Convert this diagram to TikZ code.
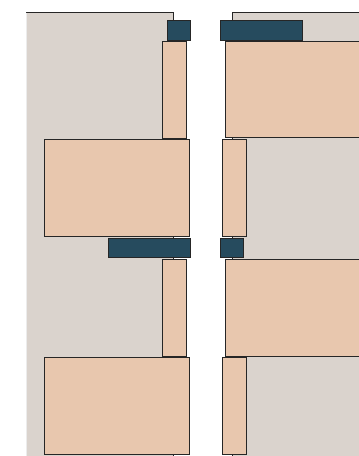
\documentclass[tikz,border=0pt]{standalone}
\usetikzlibrary{shadows}
\definecolor{panelgray}{HTML}{DAD3CD}
\definecolor{tanfill}{HTML}{E8C7AE}
\definecolor{navy}{HTML}{264B5E}
\definecolor{edge}{HTML}{262626}
\tikzset{
  panel/.style={fill=panelgray, draw=none},
  panelline/.style={draw=edge, line width=0.9pt},
  block/.style={fill=tanfill, draw=edge, line width=1pt, drop shadow={shadow xshift=1.2pt, shadow yshift=-0.6pt, opacity=0.4, fill=black}},
  capbox/.style={fill=navy, draw=edge, line width=1pt, drop shadow={shadow xshift=1.2pt, shadow yshift=-0.6pt, opacity=0.4, fill=black}}
}
\begin{document}
\begin{tikzpicture}[x=1pt,y=-1pt]
\useasboundingbox (0,0) rectangle (359,456);
\clip (0,0) rectangle (359,456);
\fill[white] (0,0) rectangle (359,456);
% left panel
\fill[panel] (26,12) rectangle (173,470);
\draw[panelline] (26,12) -- (173,12) -- (173,470);
\draw[white!85!gray, line width=0.6pt] (26.3,12.5) -- (26.3,470);
% right panel
\fill[panel] (232,12) rectangle (380,470);
\draw[panelline] (380,12) -- (232,12) -- (232,470);
% left column
\draw[capbox] (167,20) rectangle (190,40);
\draw[block] (162,41) rectangle (186,138);
\draw[block] (44,139) rectangle (189,236);
\draw[capbox] (108,238) rectangle (190,257);
\draw[block] (162,259) rectangle (186,356);
\draw[block] (44,357) rectangle (189,454);
% right column
\draw[capbox] (220,20) rectangle (302,40);
\draw[block] (225,41) rectangle (380,137);
\draw[block] (222,139) rectangle (246,236);
\draw[capbox] (220,238) rectangle (243,257);
\draw[block] (225,259) rectangle (380,356);
\draw[block] (222,357) rectangle (246,454);
\end{tikzpicture}
\end{document}
